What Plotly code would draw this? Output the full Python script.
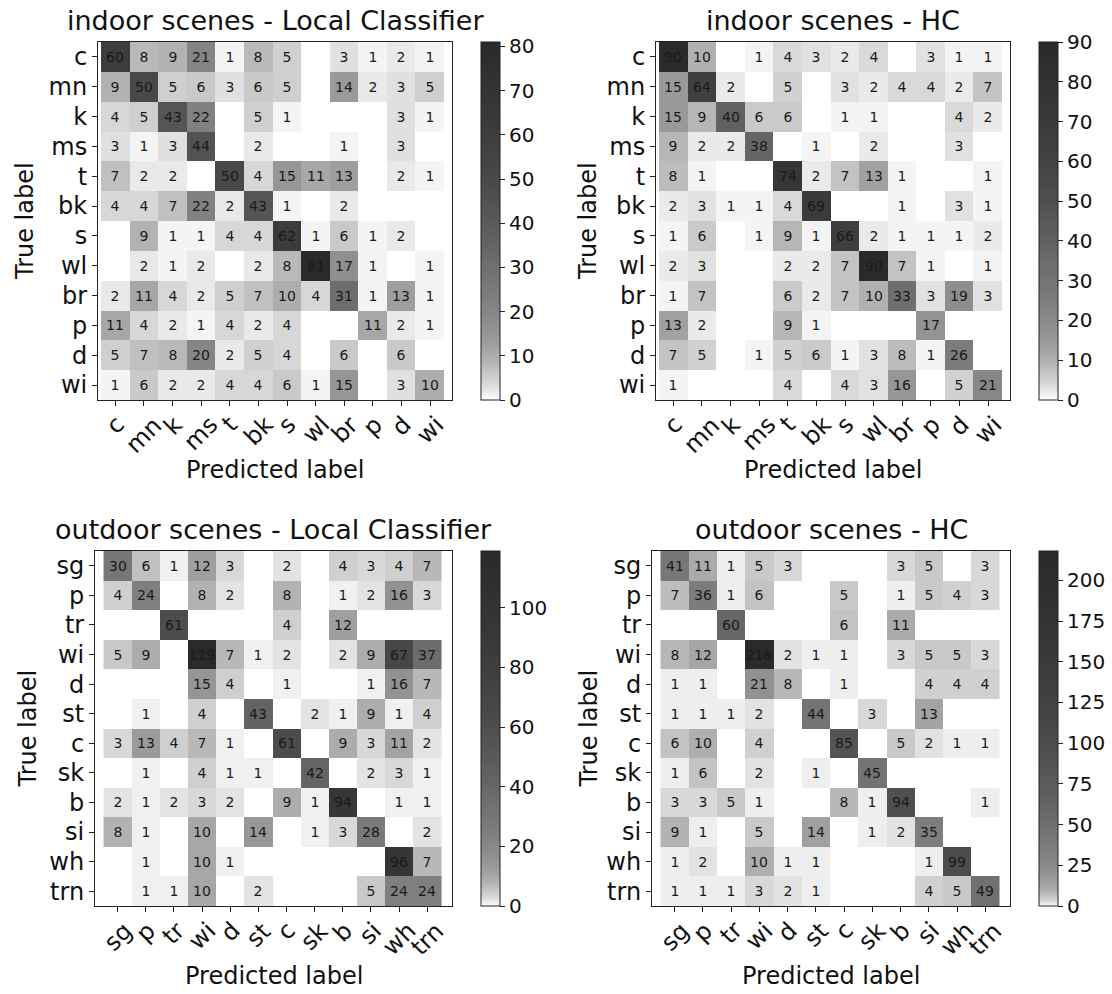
import numpy as np
import plotly.graph_objects as go

# ---------------- data ----------------
indoor_labels = ["c", "mn", "k", "ms", "t", "bk", "s", "wl", "br", "p", "d", "wi"]
outdoor_labels = ["sg", "p", "tr", "wi", "d", "st", "c", "sk", "b", "si", "wh", "trn"]

indoor_local = [
    [60, 8, 9, 21, 1, 8, 5, 0, 3, 1, 2, 1],
    [9, 50, 5, 6, 3, 6, 5, 0, 14, 2, 3, 5],
    [4, 5, 43, 22, 0, 5, 1, 0, 0, 0, 3, 1],
    [3, 1, 3, 44, 0, 2, 0, 0, 1, 0, 3, 0],
    [7, 2, 2, 0, 50, 4, 15, 11, 13, 0, 2, 1],
    [4, 4, 7, 22, 2, 43, 1, 0, 2, 0, 0, 0],
    [0, 9, 1, 1, 4, 4, 62, 1, 6, 1, 2, 0],
    [0, 2, 1, 2, 0, 2, 8, 81, 17, 1, 0, 1],
    [2, 11, 4, 2, 5, 7, 10, 4, 31, 1, 13, 1],
    [11, 4, 2, 1, 4, 2, 4, 0, 0, 11, 2, 1],
    [5, 7, 8, 20, 2, 5, 4, 0, 6, 0, 6, 0],
    [1, 6, 2, 2, 4, 4, 6, 1, 15, 0, 3, 10],
]

indoor_hc = [
    [90, 10, 0, 1, 4, 3, 2, 4, 0, 3, 1, 1],
    [15, 64, 2, 0, 5, 0, 3, 2, 4, 4, 2, 7],
    [15, 9, 40, 6, 6, 0, 1, 1, 0, 0, 4, 2],
    [9, 2, 2, 38, 0, 1, 0, 2, 0, 0, 3, 0],
    [8, 1, 0, 0, 74, 2, 7, 13, 1, 0, 0, 1],
    [2, 3, 1, 1, 4, 69, 0, 0, 1, 0, 3, 1],
    [1, 6, 0, 1, 9, 1, 66, 2, 1, 1, 1, 2],
    [2, 3, 0, 0, 2, 2, 7, 90, 7, 1, 0, 1],
    [1, 7, 0, 0, 6, 2, 7, 10, 33, 3, 19, 3],
    [13, 2, 0, 0, 9, 1, 0, 0, 0, 17, 0, 0],
    [7, 5, 0, 1, 5, 6, 1, 3, 8, 1, 26, 0],
    [1, 0, 0, 0, 4, 0, 4, 3, 16, 0, 5, 21],
]

outdoor_local = [
    [30, 6, 1, 12, 3, 0, 2, 0, 4, 3, 4, 7],
    [4, 24, 0, 8, 2, 0, 8, 0, 1, 2, 16, 3],
    [0, 0, 61, 0, 0, 0, 4, 0, 12, 0, 0, 0],
    [5, 9, 0, 119, 7, 1, 2, 0, 2, 9, 67, 37],
    [0, 0, 0, 15, 4, 0, 1, 0, 0, 1, 16, 7],
    [0, 1, 0, 4, 0, 43, 0, 2, 1, 9, 1, 4],
    [3, 13, 4, 7, 1, 0, 61, 0, 9, 3, 11, 2],
    [0, 1, 0, 4, 1, 1, 0, 42, 0, 2, 3, 1],
    [2, 1, 2, 3, 2, 0, 9, 1, 94, 0, 1, 1],
    [8, 1, 0, 10, 0, 14, 0, 1, 3, 28, 0, 2],
    [0, 1, 0, 10, 1, 0, 0, 0, 0, 0, 96, 7],
    [0, 1, 1, 10, 0, 2, 0, 0, 0, 5, 24, 24],
]

outdoor_hc = [
    [41, 11, 1, 5, 3, 0, 0, 0, 3, 5, 0, 3],
    [7, 36, 1, 6, 0, 0, 5, 0, 1, 5, 4, 3],
    [0, 0, 60, 0, 0, 0, 6, 0, 11, 0, 0, 0],
    [8, 12, 0, 218, 2, 1, 1, 0, 3, 5, 5, 3],
    [1, 1, 0, 21, 8, 0, 1, 0, 0, 4, 4, 4],
    [1, 1, 1, 2, 0, 44, 0, 3, 0, 13, 0, 0],
    [6, 10, 0, 4, 0, 0, 85, 0, 5, 2, 1, 1],
    [1, 6, 0, 2, 0, 1, 0, 45, 0, 0, 0, 0],
    [3, 3, 5, 1, 0, 0, 8, 1, 94, 0, 0, 1],
    [9, 1, 0, 5, 0, 14, 0, 1, 2, 35, 0, 0],
    [1, 2, 0, 10, 1, 1, 0, 0, 0, 1, 99, 0],
    [1, 1, 1, 3, 2, 1, 0, 0, 0, 4, 5, 49],
]

titles = ["indoor scenes - Local Classifier", "indoor scenes - HC",
          "outdoor scenes - Local Classifier", "outdoor scenes - HC"]
colorbar_dticks = [10, 10, 20, 25]

# ---------------- styling ----------------
W, H = 1112, 994
FONT = "DejaVu Sans"
INK = "#111"

def fx(px):
    return px / W

def fy(py):
    return 1 - py / H

GREYS = [255, 240, 217, 189, 150, 115, 82, 37, 0]
ALPHA = 0.835

def grey_level(t):
    g = np.interp(t, np.linspace(0, 1, len(GREYS)), GREYS)
    return 255 - ALPHA * (255 - g)

def make_scale(zmax, k):
    s = np.unique(np.concatenate([np.linspace(0, 1, 81) ** 2, [0.0, 1.0]]))
    stops = []
    for si in s:
        t = np.log1p(si * zmax / k) / np.log1p(zmax / k)
        g = int(round(grey_level(t)))
        stops.append([float(si), f"rgb({g},{g},{g})"])
    return stops

# panel geometry in pixels: (left, right, top, bottom), colorbar left, ylabel x
panels = [
    dict(z=indoor_local, labels=indoor_labels, box=(98, 452, 42, 400), cb=481, ylab=25, k=2.0),
    dict(z=indoor_hc, labels=indoor_labels, box=(656, 1010, 42, 400), cb=1039, ylab=588, k=2.0),
    dict(z=outdoor_local, labels=outdoor_labels, box=(95, 452, 551, 906), cb=481, ylab=27, k=1.0),
    dict(z=outdoor_hc, labels=outdoor_labels, box=(652, 1010, 551, 906), cb=1039, ylab=588, k=0.7),
]

fig = go.Figure()
annotations = []
layout_axes = {}

for i, (p, title, dt) in enumerate(zip(panels, titles, colorbar_dticks)):
    n = i + 1
    xa = "x" if n == 1 else f"x{n}"
    ya = "y" if n == 1 else f"y{n}"
    z = np.array(p["z"])
    zmax = float(z.max())
    text = [[str(v) if v != 0 else "" for v in row] for row in p["z"]]
    l, r, t, b = p["box"]
    fig.add_trace(go.Heatmap(
        z=p["z"], x=p["labels"], y=p["labels"],
        text=text, texttemplate="%{text}",
        textfont=dict(family=FONT, size=14, color="#1a1a1a"),
        colorscale=make_scale(zmax, p["k"]), zmin=0, zmax=zmax,
        xaxis=xa, yaxis=ya, hoverinfo="skip",
        colorbar=dict(
            x=fx(p["cb"]), xanchor="left", xpad=0, ypad=0,
            y=(fy(t) + fy(b)) / 2, yanchor="middle",
            len=(b - t) / H, lenmode="fraction",
            thickness=19, thicknessmode="pixels",
            outlinewidth=1, outlinecolor="#222",
            ticks="outside", ticklen=5, tickwidth=1, tickcolor="#222",
            tick0=0, dtick=dt,
            tickfont=dict(family=FONT, size=20, color=INK),
        ),
    ))
    key_x = "xaxis" if n == 1 else f"xaxis{n}"
    key_y = "yaxis" if n == 1 else f"yaxis{n}"
    layout_axes[key_x] = dict(
        domain=[fx(l), fx(r)], anchor=ya, type="category",
        showticklabels=False, ticks="outside", ticklen=5, tickcolor="#222",
        showline=True, mirror=True, linecolor="#222", linewidth=1,
        showgrid=False, zeroline=False,
    )
    layout_axes[key_y] = dict(
        domain=[fy(b), fy(t)], anchor=xa, type="category",
        autorange="reversed", ticks="outside", ticklen=5, tickcolor="#222",
        showline=True, mirror=True, linecolor="#222", linewidth=1,
        showgrid=False, zeroline=False,
        tickfont=dict(family=FONT, size=24, color=INK),
    )
    # rotated x tick labels centred under each tick (matplotlib style)
    for lab in p["labels"]:
        annotations.append(dict(
            text=lab, x=lab, xref=xa, y=fy(b + 8), yref="paper",
            xanchor="center", yanchor="top", textangle=-45, showarrow=False,
            font=dict(family=FONT, size=24, color=INK),
        ))
    cx = (l + r) / 2
    annotations.append(dict(
        text=title, x=fx(cx), y=fy(t - 22), xref="paper", yref="paper",
        xanchor="center", yanchor="middle", showarrow=False,
        font=dict(family=FONT, size=27, color=INK),
    ))
    annotations.append(dict(
        text="Predicted label", x=fx(cx), y=fy(b + 70), xref="paper", yref="paper",
        xanchor="center", yanchor="middle", showarrow=False,
        font=dict(family=FONT, size=24, color=INK),
    ))
    annotations.append(dict(
        text="True label", x=fx(p["ylab"]), y=fy((t + b) / 2), xref="paper", yref="paper",
        xanchor="center", yanchor="middle", showarrow=False, textangle=-90,
        font=dict(family=FONT, size=24, color=INK),
    ))

fig.update_layout(
    width=W, height=H,
    margin=dict(l=0, r=0, t=0, b=0),
    paper_bgcolor="white", plot_bgcolor="white",
    font=dict(family=FONT, color=INK),
    annotations=annotations,
    **layout_axes,
)

fig.write_html(
    "out.html",
    config={"displayModeBar": False},
    post_script="document.body.style.margin='0';document.body.style.overflow='hidden';",
)
